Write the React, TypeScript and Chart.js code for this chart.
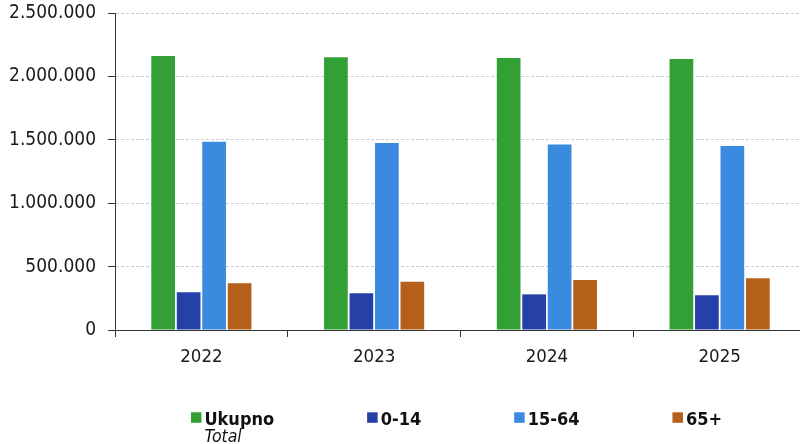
import React, { useEffect, useRef } from 'react';
import { Chart, registerables } from 'chart.js';

Chart.register(...registerables);

const categories = ['2022', '2023', '2024', '2025'];
const seriesLabels = ['Ukupno', '0-14', '15-64', '65+'];
const seriesSubLabels = ['Total', '', '', ''];
const ukupno = [2161000, 2151000, 2145000, 2137000];
const age0to14 = [297000, 289000, 281000, 274000];
const age15to64 = [1485000, 1475000, 1463000, 1451000];
const age65plus = [368000, 381000, 395000, 408000];
const seriesColors = ['#33a035', '#2541a8', '#3a8ae0', '#b5601a'];
const yMin = 0;
const yMax = 2500000;
const yStep = 500000;

const FONT = "'DejaVu Sans Condensed', 'DejaVu Sans', sans-serif";

function fmt(v: number): string {
  return String(Math.round(v)).replace(/\B(?=(\d{3})+(?!\d))/g, '.');
}

const legendPlugin = {
  id: 'customLegend',
  afterDraw(chart: any) {
    const ctx = chart.ctx as CanvasRenderingContext2D;
    const box = 10.5;
    const boxGap = 3;
    const itemGap = 93;
    const area = chart.chartArea;
    ctx.save();
    ctx.font = `bold 18px ${FONT}`;
    const items = chart.data.datasets.map((ds: any, i: number) => ({
      text: ds.label as string,
      color: ds.backgroundColor as string,
      sub: seriesSubLabels[i],
      w: box + boxGap + ctx.measureText(ds.label).width,
    }));
    const total = items.reduce((s: number, it: any) => s + it.w, 0) + itemGap * (items.length - 1);
    let x = (area.left + area.right) / 2 - 4 - total / 2;
    const baseY = area.bottom + 95;
    items.forEach((it: any) => {
      ctx.fillStyle = it.color;
      ctx.fillRect(x, baseY - 12.7, box, box);
      ctx.fillStyle = '#111';
      ctx.font = `bold 18px ${FONT}`;
      ctx.textBaseline = 'alphabetic';
      ctx.textAlign = 'left';
      ctx.fillText(it.text, x + box + boxGap, baseY);
      if (it.sub) {
        ctx.font = `italic 17.5px ${FONT}`;
        ctx.fillText(it.sub, x + box + boxGap, baseY + 17);
      }
      x += it.w + itemGap;
    });
    ctx.restore();
  },
};

export default function App() {
  const canvasRef = useRef<HTMLCanvasElement | null>(null);

  useEffect(() => {
    if (!canvasRef.current) return;
    const series = [ukupno, age0to14, age15to64, age65plus];
    const chart = new Chart(canvasRef.current, {
      type: 'bar',
      data: {
        labels: categories,
        datasets: series.map((d, i) => ({
          label: seriesLabels[i],
          data: d,
          backgroundColor: seriesColors[i],
          borderWidth: 0,
          categoryPercentage: 0.59,
          barPercentage: 0.93,
        })),
      },
      options: {
        animation: false,
        responsive: true,
        maintainAspectRatio: false,
        layout: { padding: { top: 13, left: 0, right: 0, bottom: 74 } },
        plugins: {
          legend: { display: false },
          tooltip: { enabled: false },
        },
        scales: {
          x: {
            grid: {
              drawOnChartArea: false,
              drawTicks: true,
              tickLength: 7,
              tickColor: '#333',
              offset: true,
            },
            border: { color: '#333', width: 1 },
            ticks: {
              color: '#1a1a1a',
              padding: 9,
              font: { family: FONT, size: 18.5 },
            },
            afterFit: (scale: any) => {
              scale.height = 40;
            },
          },
          y: {
            min: yMin,
            max: yMax,
            grid: {
              color: '#cccccc',
              lineWidth: 1,
              drawTicks: true,
              tickLength: 7,
              tickColor: '#333',
            },
            border: { color: '#333', width: 1, dash: [3, 2] },
            ticks: {
              stepSize: yStep,
              color: '#1a1a1a',
              padding: 12,
              font: { family: FONT, size: 19 },
              callback: (v: any) => fmt(Number(v)),
            },
            afterFit: (scale: any) => {
              scale.width = 115;
              scale.paddingTop = 0;
              scale.paddingBottom = 0;
            },
          },
        },
      },
      plugins: [legendPlugin],
    });
    return () => chart.destroy();
  }, []);

  return (
    <div style={{ position: 'absolute', left: 0, top: 0, width: 800, height: 444, overflow: 'hidden', background: '#fff' }}>
      <div style={{ position: 'relative', width: 806, height: 444 }}>
        <canvas ref={canvasRef} />
      </div>
    </div>
  );
}
